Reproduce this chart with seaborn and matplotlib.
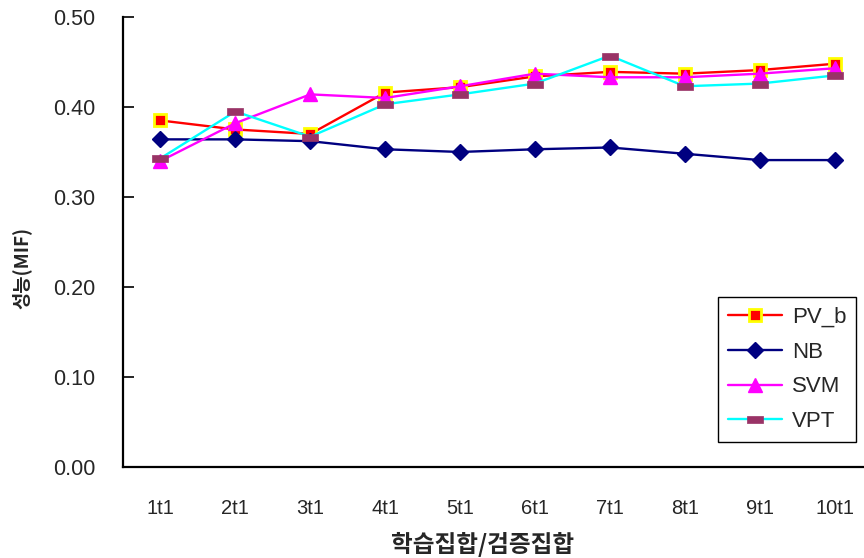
import matplotlib
matplotlib.use("Agg")
import matplotlib.pyplot as plt
import seaborn as sns
import pandas as pd

# Train/test split labels and MIF scores for each method
splits = ["1t1", "2t1", "3t1", "4t1", "5t1", "6t1", "7t1", "8t1", "9t1", "10t1"]
pv_b = [0.385, 0.375, 0.370, 0.416, 0.422, 0.434, 0.439, 0.437, 0.441, 0.448]
nb = [0.364, 0.364, 0.362, 0.353, 0.350, 0.353, 0.355, 0.348, 0.341, 0.341]
svm = [0.340, 0.382, 0.414, 0.410, 0.423, 0.437, 0.433, 0.433, 0.437, 0.443]
vpt = [0.343, 0.395, 0.367, 0.403, 0.414, 0.426, 0.457, 0.423, 0.426, 0.435]
y_ticks = [0.0, 0.1, 0.2, 0.3, 0.4, 0.5]

sns.set_theme(style="white")
plt.rcParams["font.family"] = ["Liberation Sans", "Noto Sans CJK KR", "DejaVu Sans"]

df = pd.DataFrame({"split": splits, "PV_b": pv_b, "NB": nb, "SVM": svm, "VPT": vpt})
df["pos"] = range(len(splits))

fig = plt.figure(figsize=(8.64, 5.58), dpi=100)
ax = fig.add_axes([0.1424, 0.1631, 0.8669, 0.8065])

# flat bar-shaped marker for VPT
bar_marker = [(-1, -0.42), (1, -0.42), (1, 0.42), (-1, 0.42), (-1, -0.42)]

styles = {
    "PV_b": dict(color="#FF0000", marker="s", markersize=9, markerfacecolor="#FF0000",
                 markeredgecolor="#FFFF00", markeredgewidth=2),
    "NB": dict(color="#000080", marker="D", markersize=8, markerfacecolor="#000080",
               markeredgecolor="#000080", markeredgewidth=1),
    "SVM": dict(color="#FF00FF", marker="^", markersize=10, markerfacecolor="#FF00FF",
                markeredgecolor="#FF00FF", markeredgewidth=1),
    "VPT": dict(color="#00FFFF", marker=bar_marker, markersize=12, markerfacecolor="#993366",
                markeredgecolor="#993366", markeredgewidth=0.5),
}

for name, st in styles.items():
    sns.lineplot(data=df, x="pos", y=name, ax=ax, label=name, linewidth=1.7, **st)

ax.set_xlim(-0.5, 9.5)
ax.set_ylim(0, 0.5)
ax.set_yticks(y_ticks)
ax.set_yticklabels([f"{v:.2f}" for v in y_ticks], fontsize=15.5)
ax.set_xticks([i + 0.5 for i in range(len(splits))], minor=False)
ax.set_xticklabels([])
ax.set_xticks(range(len(splits)), minor=True)
ax.set_xticklabels(splits, minor=True, fontsize=14.5)
ax.tick_params(axis="x", which="major", direction="in", length=7, width=1.2, color="black")
ax.tick_params(axis="x", which="minor", length=0, pad=23)
ax.tick_params(axis="y", direction="in", length=8, width=1.2, color="black", pad=20, left=True)

for side in ["top", "right"]:
    ax.spines[side].set_visible(False)
for side in ["left", "bottom"]:
    ax.spines[side].set_color("black")
    ax.spines[side].set_linewidth(1.6)

ax.set_xlabel("학습집합/검증집합", fontsize=17, fontweight="bold",
              family=["Noto Sans CJK KR", "DejaVu Sans"])
ax.set_ylabel("성능(MIF)", fontsize=13.5, fontweight="bold",
              family=["Noto Sans CJK KR", "DejaVu Sans"])
ax.xaxis.label.set_verticalalignment("center")
ax.yaxis.label.set_verticalalignment("center")
ax.xaxis.set_label_coords(0.48, -0.172)
ax.yaxis.set_label_coords(-0.135, 0.442)

leg = ax.legend(loc="upper left", bbox_to_anchor=(0.795, 0.378), fontsize=16,
                frameon=True, fancybox=False, framealpha=1, edgecolor="black",
                handlelength=2.4, labelspacing=0.62, borderpad=0.45, handletextpad=0.45,
                borderaxespad=0)
leg.get_frame().set_linewidth(1.0)

fig.savefig("out.png", dpi=100)
